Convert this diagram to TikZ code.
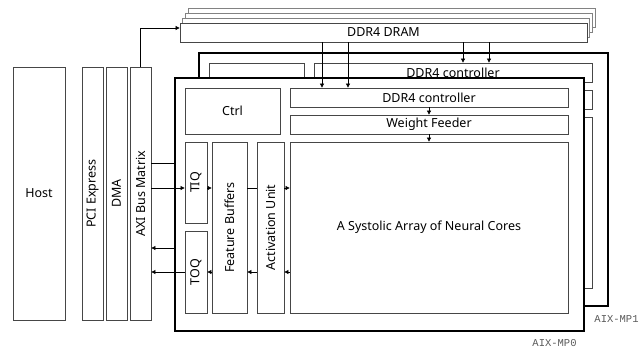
\documentclass[tikz,border=0pt]{standalone}
\usepackage{fontspec}
\setmainfont{Noto Sans}
\setmonofont{Liberation Mono}
\usetikzlibrary{arrows.meta}
\definecolor{boxline}{RGB}{70,70,70}
\definecolor{backline}{RGB}{130,130,130}
\definecolor{tagcol}{RGB}{90,90,90}

\begin{document}
\begin{tikzpicture}[x=1pt,y=-1pt,font=\fontsize{12.5}{14}\selectfont]
\tikzset{
  BX/.style={draw=boxline,fill=white,line width=0.8pt,rectangle,inner sep=0pt,align=center},
  sz/.style 2 args={minimum width=#1pt,minimum height=#2pt},
  VT/.style={label={[rotate=90,inner sep=0pt]center:#1}},
  CH/.style={draw=black,fill=white,line width=1.6pt,rectangle,inner sep=0pt,minimum width=409pt,minimum height=253pt},
  DR/.style={draw=backline,fill=white,line width=0.8pt,rectangle,inner sep=0pt,minimum width=407pt,minimum height=19pt},
  FL/.style={-{Triangle[length=4pt,width=4pt]},line width=0.7pt,black},
  LN/.style={line width=0.7pt,black},
  TG/.style={font=\ttfamily\fontsize{10.5}{12}\selectfont,text=tagcol,inner sep=0pt},
}
\useasboundingbox (0,0) rectangle (639,349);

% host side
\node[BX,sz={52}{253}](host) at (39,193.5){Host};
\node[BX,sz={21}{253},VT={PCI Express}](pcie) at (92.5,193.5){};
\node[BX,sz={21}{253},VT={DMA}](dma) at (116.5,193.5){};
\node[BX,sz={21}{253},VT={AXI Bus Matrix}](axi) at (140.5,193.5){};

% DRAM stack
\foreach \k in {3,2,1}{
  \node[DR](dram\k) at (383.5+2.7*\k,32.5-5*\k){};
}
\node[BX,sz={407}{19}](dram) at (383.5,32.5){DDR4 DRAM};

% AIX-MP1 (behind)
\node[CH](mp1) at (403.5,179.5){};
\node[BX,sz={95}{46}](ctrl1) at (256.5,86){};
\node[BX,sz={278}{19}](ddr1) at (453,72.5){DDR4 controller};
\node[BX,sz={278}{19}](wf1)  at (453,99.5){};
\node[BX,sz={278}{171}](sa1) at (453,202.5){};
\node[TG](tag1) at (616.5,319){AIX-MP1};

% AIX-MP0 (front)
\node[CH](mp0) at (379.5,204.5){};
\node[BX,sz={95}{46}](ctrl) at (232.5,111){Ctrl};
\node[BX,sz={278}{19}](ddr0) at (429,97.5){DDR4 controller};
\node[BX,sz={278}{19}](wf0)  at (429,124.5){Weight Feeder};
\node[BX,sz={278}{171}](sa)  at (429,227.5){A Systolic Array of Neural Cores};
\node[BX,sz={22}{81},VT={TIQ}](tiq) at (196,182.5){};
\node[BX,sz={22}{82},VT={TOQ}](toq) at (196,272){};
\node[BX,sz={35}{171},VT={Feature Buffers}](fb) at (229.5,227.5){};
\node[BX,sz={27}{171},VT={Activation Unit}](au) at (270.5,227.5){};
\node[TG](tag0) at (554.5,343){AIX-MP0};

% DRAM links
\coordinate (dramin) at ([yshift=4.5pt]dram.west);
\draw[FL](axi.north)|-(dramin);
\coordinate (c1) at (322,0);
\coordinate (c2) at (348,0);
\coordinate (c3) at (463,0);
\coordinate (c4) at (489,0);
\draw[FL](dram.south -| c1)--(ddr0.north -| c1);
\draw[FL](dram.south -| c2)--(ddr0.north -| c2);
\draw[FL](dram.south -| c3)--(ddr1.north -| c3);
\draw[FL](dram.south -| c4)--(ddr1.north -| c4);
\draw[FL](ddr0.south)--(wf0.north);
\draw[FL](wf0.south)--(sa.north);

% data path
\coordinate (r1) at (0,163);
\coordinate (r2) at (0,188);
\coordinate (r3) at (0,248);
\coordinate (r4) at (0,272);
\draw[LN](axi.east |- r1)--(mp0.west |- r1);
\draw[FL](axi.east |- r2)--(tiq.west |- r2);
\draw[FL](mp0.west |- r3)--(axi.east |- r3);
\draw[FL](toq.west |- r4)--(axi.east |- r4);
\draw[FL](tiq.east |- r2)--(fb.west |- r2);
\draw[LN](fb.east |- r2)--(au.west |- r2);
\draw[FL](au.east |- r2)--(sa.west |- r2);
\draw[FL](fb.west |- r4)--(toq.east |- r4);
\draw[FL](au.west |- r4)--(fb.east |- r4);
\draw[FL](sa.west |- r4)--(au.east |- r4);

\end{tikzpicture}
\end{document}
